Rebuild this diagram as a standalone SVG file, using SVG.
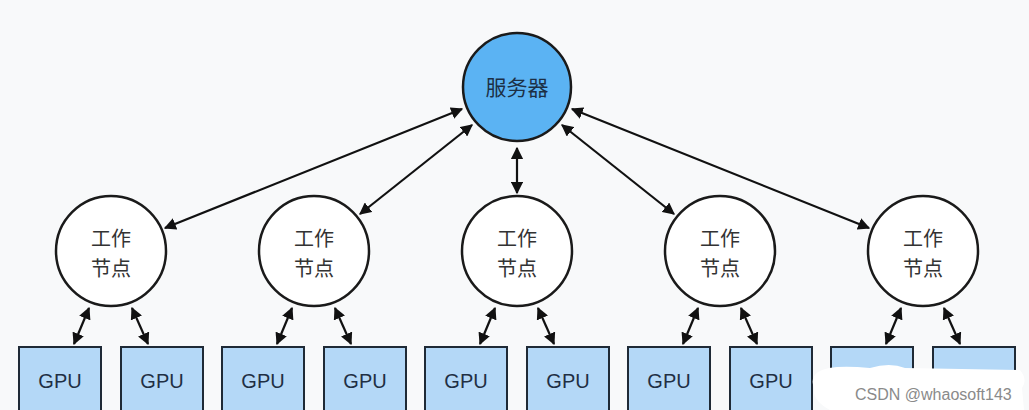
<svg xmlns="http://www.w3.org/2000/svg" width="1029" height="410" viewBox="0 0 1029 410">
<defs>
<marker id="ah" viewBox="0 0 10 10" refX="9" refY="5" markerWidth="5.5" markerHeight="5.5" orient="auto-start-reverse" markerUnits="strokeWidth">
<path d="M0,0 L10,5 L0,10 Z" fill="#111"/>
</marker>
<style>
.srv{fill:#5bb3f3;stroke:#1a1a1a;stroke-width:2.5}
.wrk{fill:#ffffff;stroke:#1a1a1a;stroke-width:2.5}
.gpu{fill:#b4d8f7;stroke:#1f2a36;stroke-width:2}
.lbl{font-family:"Noto Sans CJK SC","Liberation Sans",sans-serif;font-size:20px;fill:#333;text-anchor:middle}
.glbl{font-family:"Liberation Sans",Arial,sans-serif;font-size:20px;fill:#1f2f44;text-anchor:middle}
.con line{stroke:#111;stroke-width:2.2;marker-start:url(#ah);marker-end:url(#ah)}
</style>
</defs>
<rect width="1029" height="410" fill="#f8f9fa"/>

<g id="connectors" class="con">
<line x1="165" y1="228" x2="462" y2="109"/>
<line x1="360" y1="214" x2="472" y2="125"/>
<line x1="517" y1="148" x2="517" y2="193"/>
<line x1="674" y1="214" x2="562" y2="125"/>
<line x1="869" y1="228" x2="572" y2="109"/>
<line x1="89" y1="308" x2="74" y2="344"/>
<line x1="132" y1="308" x2="148" y2="344"/>
<line x1="292" y1="308" x2="277" y2="344"/>
<line x1="335" y1="308" x2="351" y2="344"/>
<line x1="495" y1="308" x2="480" y2="344"/>
<line x1="538" y1="308" x2="554" y2="344"/>
<line x1="698" y1="308" x2="683" y2="344"/>
<line x1="741" y1="308" x2="757" y2="344"/>
<line x1="901" y1="308" x2="886" y2="344"/>
<line x1="944" y1="308" x2="960" y2="344"/>
</g>

<g id="server">
<circle class="srv" cx="517" cy="87" r="54"/>
<text class="lbl" x="517" y="95" style="fill:#1c2f45;font-size:21px">服务器</text>
</g>

<g id="worker1"><circle class="wrk" cx="111" cy="251" r="55"/><text class="lbl" x="111" y="246">工作</text><text class="lbl" x="111" y="276">节点</text></g>
<g id="worker2"><circle class="wrk" cx="314" cy="251" r="55"/><text class="lbl" x="314" y="246">工作</text><text class="lbl" x="314" y="276">节点</text></g>
<g id="worker3"><circle class="wrk" cx="517" cy="251" r="55"/><text class="lbl" x="517" y="246">工作</text><text class="lbl" x="517" y="276">节点</text></g>
<g id="worker4"><circle class="wrk" cx="720" cy="251" r="55"/><text class="lbl" x="720" y="246">工作</text><text class="lbl" x="720" y="276">节点</text></g>
<g id="worker5"><circle class="wrk" cx="923" cy="251" r="55"/><text class="lbl" x="923" y="246">工作</text><text class="lbl" x="923" y="276">节点</text></g>

<g id="gpu1a"><rect class="gpu" x="19" y="347" width="82" height="70"/><text class="glbl" x="60" y="388">GPU</text></g>
<g id="gpu1b"><rect class="gpu" x="121" y="347" width="82" height="70"/><text class="glbl" x="162" y="388">GPU</text></g>
<g id="gpu2a"><rect class="gpu" x="222" y="347" width="82" height="70"/><text class="glbl" x="263" y="388">GPU</text></g>
<g id="gpu2b"><rect class="gpu" x="324" y="347" width="82" height="70"/><text class="glbl" x="365" y="388">GPU</text></g>
<g id="gpu3a"><rect class="gpu" x="425" y="347" width="82" height="70"/><text class="glbl" x="466" y="388">GPU</text></g>
<g id="gpu3b"><rect class="gpu" x="527" y="347" width="82" height="70"/><text class="glbl" x="568" y="388">GPU</text></g>
<g id="gpu4a"><rect class="gpu" x="628" y="347" width="82" height="70"/><text class="glbl" x="669" y="388">GPU</text></g>
<g id="gpu4b"><rect class="gpu" x="730" y="347" width="82" height="70"/><text class="glbl" x="771" y="388">GPU</text></g>
<g id="gpu5a"><rect class="gpu" x="831" y="347" width="82" height="70"/></g>
<g id="gpu5b"><rect class="gpu" x="933" y="347" width="82" height="70"/></g>

<g id="watermark">
<path d="M818,372 Q830,364 870,368 Q890,362 905,368 L1020,370 Q1028,380 1022,388 L1024,410 L830,410 Q812,400 814,388 Q810,378 818,372 Z" fill="#ffffff"/>
<text x="855" y="400" style="font-family:'Liberation Sans',Arial,sans-serif;font-size:16px;fill:#8a8a8a">CSDN @whaosoft143</text>
</g>
</svg>
